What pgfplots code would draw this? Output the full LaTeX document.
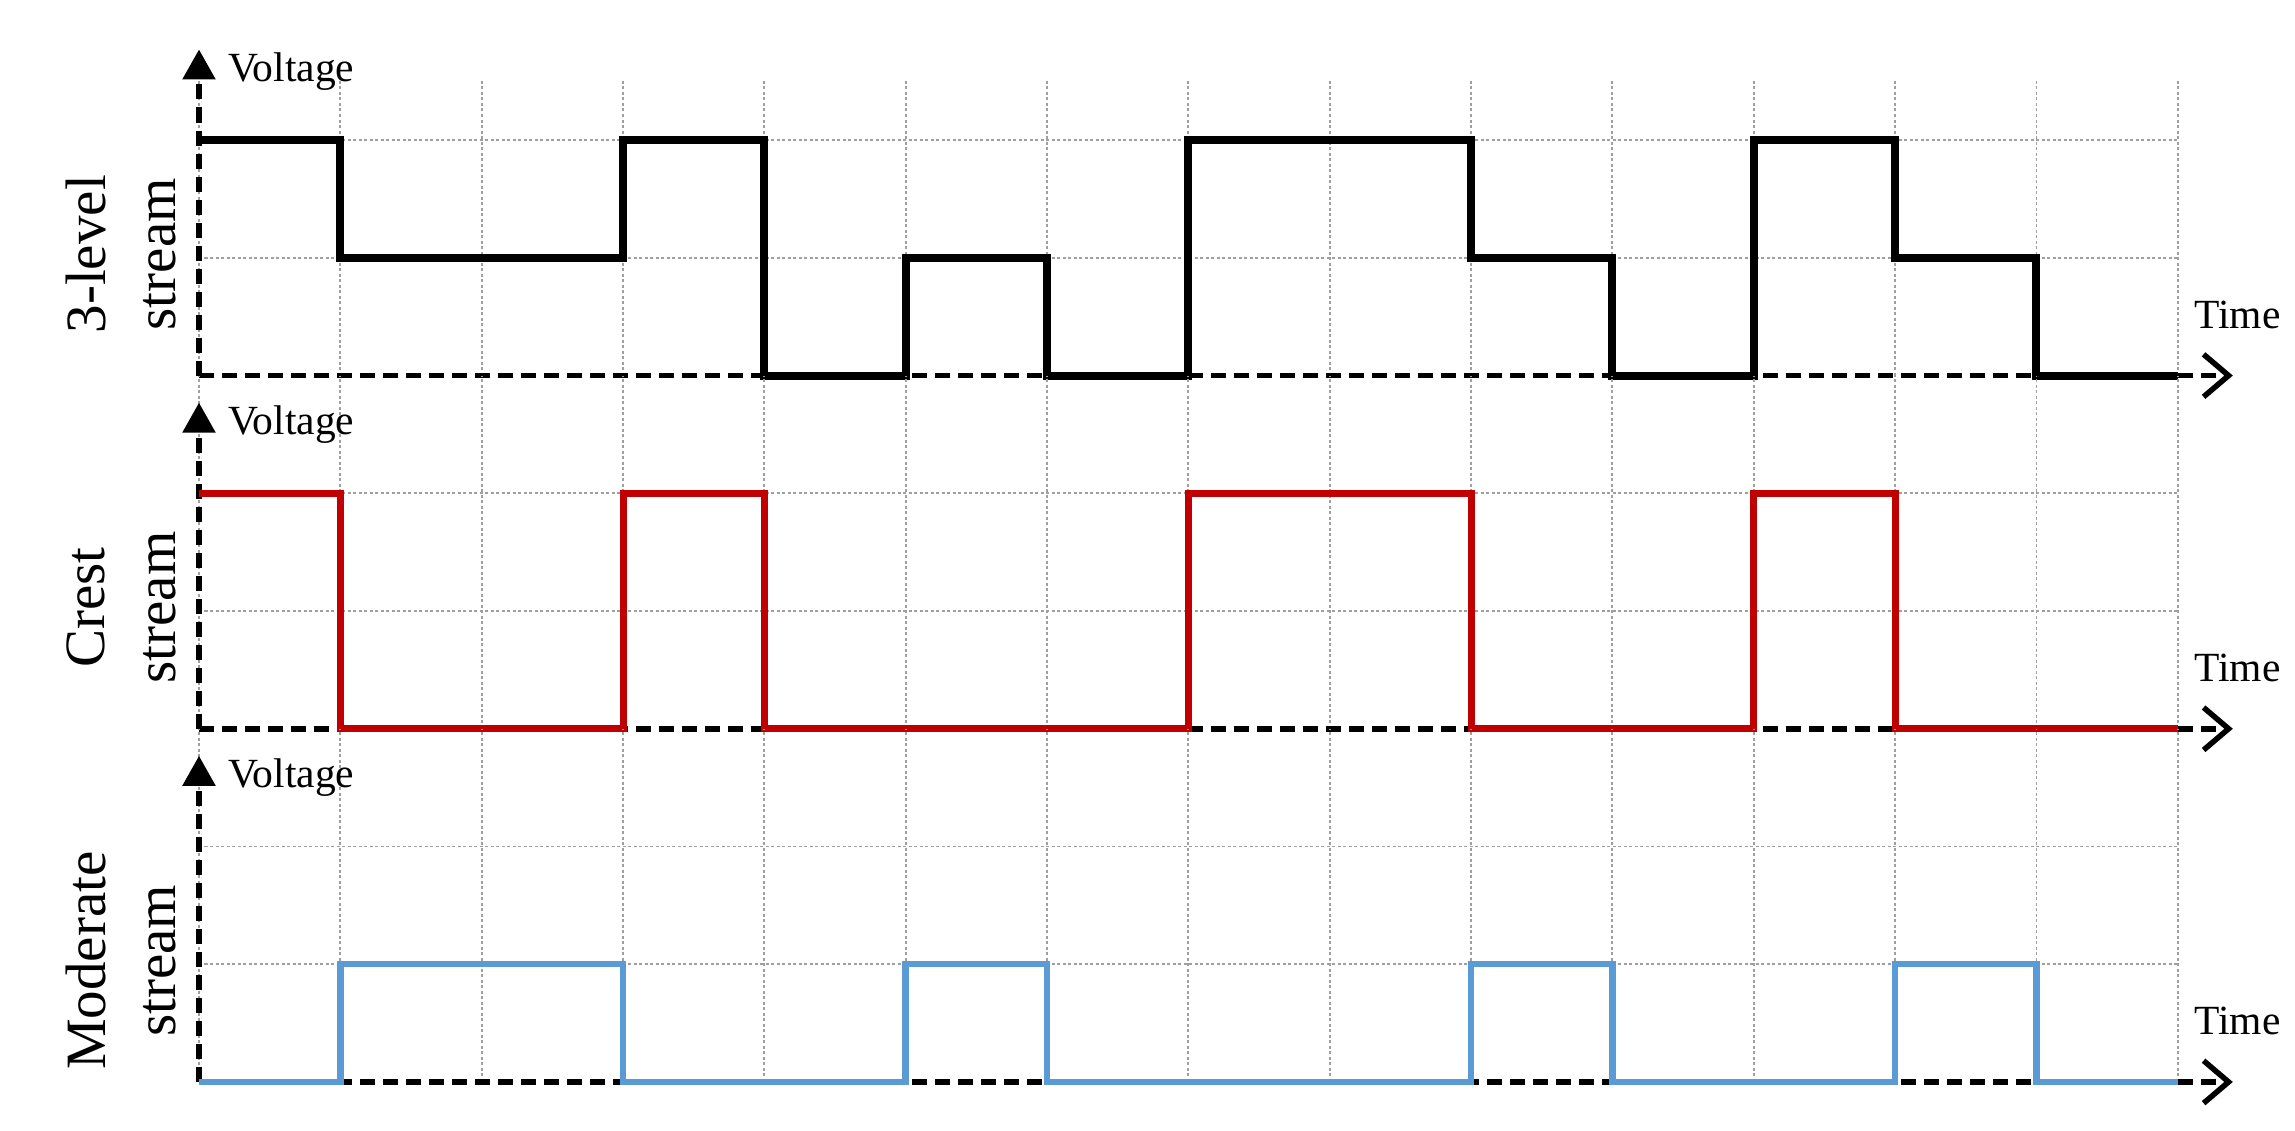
\documentclass[border=0pt]{standalone}
\usepackage{fontspec}
\setmainfont{Liberation Serif}
\usepackage{pgfplots}
\pgfplotsset{compat=1.18}
\usetikzlibrary{arrows.meta}
\definecolor{crestred}{RGB}{192,0,0}
\definecolor{modblue}{RGB}{91,155,213}

\pgfplotsset{
  wave/.style={
    x=28.26pt, y=23.54pt,
    xmin=0, xmax=14, ymin=0,
    xtick={0,...,14}, ytick={1,2},
    xticklabels={}, yticklabels={},
    major tick length=0pt,
    grid=major,
    major grid style={gray!75, line width=0.35pt, dash pattern=on 0.6pt off 0.5pt},
    axis line style={draw=none},
    clip=false,
  },
}

% dashed axes with arrows, plus the two small labels
\newcommand{\streamaxes}{%
  \draw[line width=1.1pt, dash pattern=on 3pt off 1.6pt,
        -{Triangle[width=6.4pt,length=6pt]}] (axis cs:0,0) -- (axis cs:0,2.77);
  \draw[line width=1.1pt, dash pattern=on 3pt off 1.6pt,
        -{Straight Barb[length=5pt,width=8.5pt,line width=1.1pt]}] (axis cs:0,0) -- (axis cs:14.39,0);
  \node[anchor=base west, inner sep=0pt, font=\fontsize{8.3}{10}\selectfont] at (axis cs:0.2,2.5) {Voltage};
  \node[anchor=base west, inner sep=0pt, font=\fontsize{8.3}{10}\selectfont] at (axis cs:14.11,0.4) {Time};
}
\newcommand{\streamlabel}[2]{%
  \node[rotate=90, inner sep=0pt, font=\fontsize{11.4}{14}\selectfont] at (axis cs:-0.8,1.03) {#1};
  \node[rotate=90, inner sep=0pt, font=\fontsize{11.4}{14}\selectfont] at (axis cs:-0.28,1.03) {#2};
}

\begin{document}
\begin{tikzpicture}
% 3-level stream
\begin{axis}[wave, name=p1, ymax=2.5]
\streamaxes
\streamlabel{3-level}{stream}
\path (axis cs:-1.408,3.19) coordinate (tl);
\addplot[const plot, black, line width=1.6pt] coordinates {
  (0,2) (1,1) (3,2) (4,0) (5,1) (6,0) (7,2) (9,1) (10,0) (11,2) (12,1) (13,0) (14,0)
};
\end{axis}
% Crest stream
\begin{axis}[wave, name=p2, ymax=3, at={(p1.south west)}, anchor=north west]
\streamaxes
\streamlabel{Crest}{stream}
\addplot[const plot, crestred, line width=1.4pt] coordinates {
  (0,2) (1,0) (3,2) (4,0) (7,2) (9,0) (11,2) (12,0) (14,0)
};
\end{axis}
% Moderate stream
\begin{axis}[wave, name=p3, ymax=3, at={(p2.south west)}, anchor=north west]
\streamaxes
\streamlabel{Moderate}{stream}
\path (axis cs:14.83,-0.41) coordinate (br);
\addplot[const plot, modblue, line width=1.3pt] coordinates {
  (0,0) (1,1) (3,0) (5,1) (6,0) (9,1) (10,0) (12,1) (13,0) (14,0)
};
\end{axis}
\path (tl) rectangle (br);
\end{tikzpicture}
\end{document}
